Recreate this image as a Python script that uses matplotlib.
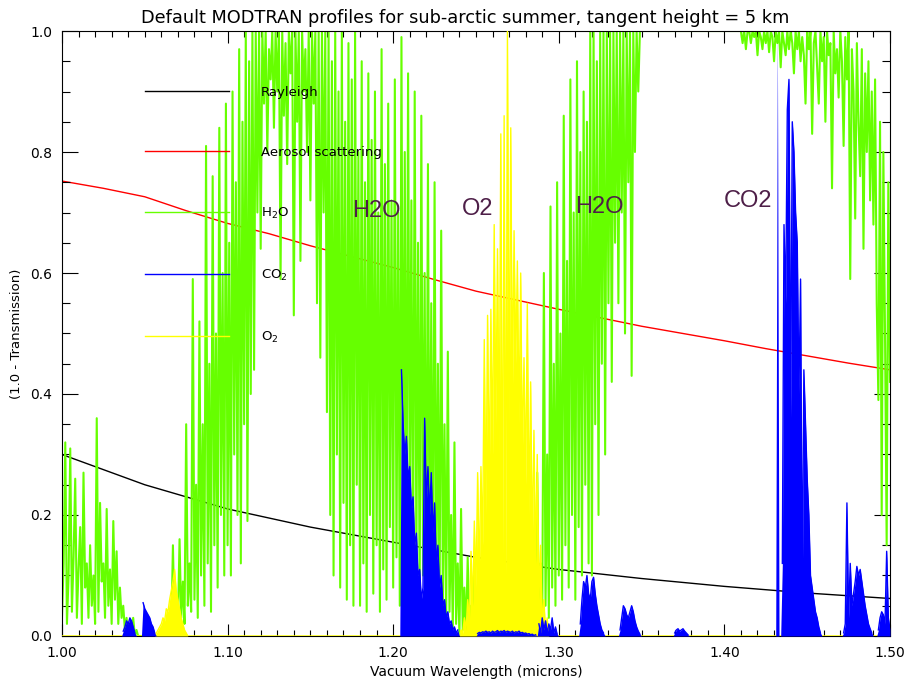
import numpy as np
import matplotlib.pyplot as plt
from matplotlib.ticker import MultipleLocator, FormatStrFormatter

# smooth extinction terms
rayleigh_wl = np.linspace(1.0, 1.5, 11)
rayleigh = [0.300, 0.250, 0.210, 0.180, 0.155, 0.130, 0.110, 0.095, 0.082, 0.071, 0.062]

aerosol_wl = np.linspace(1.0, 1.5, 21)
aerosol = [0.752, 0.740, 0.726, 0.703, 0.682, 0.665, 0.645, 0.627, 0.609, 0.589,
           0.570, 0.555, 0.540, 0.526, 0.512, 0.500, 0.488, 0.475, 0.463, 0.451, 0.440]

# water vapour, every 0.001 micron from 1.000 to 1.500 (one row = 0.02 micron)
h2o_wl = np.linspace(1.0, 1.5, 501)
h2o = [
    0.03, 0.12, 0.32, 0.02, 0.10, 0.31, 0.04, 0.13, 0.26, 0.03, 0.11, 0.18, 0.02, 0.27, 0.08, 0.12, 0.03, 0.15, 0.05, 0.10,
    0.02, 0.36, 0.04, 0.22, 0.09, 0.12, 0.03, 0.21, 0.05, 0.11, 0.02, 0.19, 0.06, 0.14, 0.02, 0.08, 0.03, 0.05, 0.01, 0.03,
    0.00, 0.02, 0.00, 0.03, 0.00, 0.01, 0.00, 0.00, 0.00, 0.00, 0.00, 0.00, 0.00, 0.00, 0.00, 0.00, 0.00, 0.00, 0.00, 0.00,
    0.00, 0.005, 0.00, 0.01, 0.00, 0.02, 0.00, 0.15, 0.01, 0.06, 0.02, 0.16, 0.03, 0.09, 0.02, 0.35, 0.05, 0.12, 0.04, 0.59,
    0.06, 0.25, 0.03, 0.52, 0.10, 0.35, 0.05, 0.81, 0.12, 0.45, 0.04, 0.76, 0.15, 0.50, 0.08, 0.84, 0.20, 0.60, 0.10, 0.88,
    0.15, 0.65, 0.10, 0.90, 0.30, 0.75, 0.20, 0.97, 0.12, 0.85, 0.35, 1.00, 0.19, 0.95, 0.40, 1.00, 0.44, 1.00, 0.70, 1.00,
    0.64, 1.00, 0.88, 1.00, 0.80, 0.97, 0.92, 1.00, 0.84, 1.00, 0.90, 1.00, 0.59, 1.00, 0.86, 0.98, 0.78, 1.00, 0.93, 1.00,
    0.53, 1.00, 0.85, 1.00, 0.62, 1.00, 0.90, 0.97, 0.80, 1.00, 0.72, 1.00, 0.88, 1.00, 0.55, 1.00, 0.46, 1.00, 0.70, 1.00,
    0.37, 1.00, 0.20, 0.95, 0.10, 1.00, 0.30, 0.90, 0.08, 1.00, 0.22, 0.85, 0.06, 0.98, 0.15, 0.92, 0.05, 1.00, 0.25, 0.80,
    0.05, 0.95, 0.12, 0.75, 0.04, 0.93, 0.20, 0.82, 0.07, 0.90, 0.15, 0.70, 0.04, 0.97, 0.11, 0.78, 0.06, 0.88, 0.18, 0.72,
    0.08, 0.92, 0.13, 0.70, 0.05, 0.99, 0.15, 0.80, 0.08, 0.93, 0.20, 0.72, 0.06, 0.90, 0.12, 0.65, 0.05, 0.86, 0.10, 0.60,
    0.04, 0.78, 0.09, 0.55, 0.03, 0.75, 0.07, 0.45, 0.03, 0.67, 0.05, 0.35, 0.02, 0.47, 0.04, 0.20, 0.01, 0.32, 0.02, 0.12,
    0.00, 0.21, 0.01, 0.08, 0.00, 0.13, 0.01, 0.05, 0.00, 0.10, 0.00, 0.04, 0.00, 0.06, 0.00, 0.03, 0.00, 0.12, 0.01, 0.05,
    0.00, 0.08, 0.00, 0.04, 0.00, 0.14, 0.01, 0.06, 0.00, 0.10, 0.00, 0.05, 0.00, 0.12, 0.01, 0.04, 0.00, 0.09, 0.00, 0.05,
    0.00, 0.15, 0.01, 0.06, 0.00, 0.10, 0.02, 0.27, 0.03, 0.12, 0.02, 0.60, 0.05, 0.30, 0.03, 0.71, 0.08, 0.45, 0.05, 0.75,
    0.10, 0.50, 0.06, 0.86, 0.15, 0.62, 0.08, 0.92, 0.20, 0.70, 0.06, 0.95, 0.18, 0.80, 0.10, 0.90, 0.25, 0.85, 0.12, 1.00,
    0.10, 1.00, 0.35, 0.95, 0.20, 1.00, 0.45, 1.00, 0.30, 1.00, 0.55, 1.00, 0.42, 1.00, 0.65, 1.00, 0.55, 1.00, 0.70, 1.00,
    0.50, 1.00, 0.75, 1.00, 0.43, 1.00, 0.80, 1.00, 0.90, 1.00, 1.00, 1.00, 1.00, 1.00, 1.00, 1.00, 1.00, 1.00, 1.00, 1.00,
    1.00, 1.00, 1.00, 1.00, 1.00, 1.00, 1.00, 1.00, 1.00, 1.00, 1.00, 1.00, 1.00, 1.00, 1.00, 1.00, 1.00, 1.00, 1.00, 1.00,
    1.00, 1.00, 1.00, 1.00, 1.00, 1.00, 1.00, 1.00, 1.00, 1.00, 1.00, 1.00, 1.00, 1.00, 1.00, 1.00, 1.00, 1.00, 1.00, 1.00,
    1.00, 1.00, 1.00, 1.00, 1.00, 1.00, 1.00, 1.00, 1.00, 1.00, 1.00, 0.98, 1.00, 0.97, 1.00, 1.00, 0.98, 1.00, 0.99, 1.00,
    0.96, 1.00, 0.99, 0.97, 1.00, 0.98, 1.00, 0.965, 1.00, 0.99, 0.95, 1.00, 0.98, 1.00, 0.94, 1.00, 0.98, 0.96, 1.00, 0.97,
    1.00, 0.98, 0.93, 1.00, 0.97, 1.00, 0.95, 0.99, 0.96, 0.88, 1.00, 0.97, 1.00, 0.83, 0.98, 1.00, 0.94, 0.88, 1.00, 0.95,
    0.99, 0.85, 1.00, 0.96, 0.98, 0.74, 1.00, 0.93, 0.97, 0.89, 1.00, 0.95, 0.81, 0.99, 0.92, 1.00, 0.59, 0.97, 0.90, 0.69,
    0.98, 0.85, 0.76, 0.97, 0.64, 0.93, 0.80, 0.95, 0.72, 0.90, 0.68, 0.92, 0.55, 0.39, 0.85, 0.20, 0.80, 0.50, 0.15, 0.75,
    0.42]

# CO2 bands, every 0.001 micron from the given start; zero elsewhere
co2_1036 = [0.0, 0.008, 0.015, 0.025, 0.02, 0.03, 0.025, 0.015, 0.005, 0.0,
            0.0, 0.0, 0.0, 0.055, 0.045, 0.04, 0.035, 0.03, 0.02, 0.015, 0.005, 0.0]
co2_1203 = [0.0, 0.0, 0.44, 0.35, 0.30, 0.33, 0.26, 0.28, 0.21, 0.23,
            0.15, 0.17, 0.10, 0.11, 0.06, 0.08, 0.36, 0.22, 0.28, 0.20,
            0.27, 0.17, 0.22, 0.12, 0.15, 0.08, 0.10, 0.05, 0.06, 0.03,
            0.04, 0.02, 0.025, 0.01, 0.015, 0.005, 0.01, 0.0]
co2_1250 = [0.0, 0.004, 0.006, 0.005, 0.007, 0.006, 0.008, 0.006, 0.007, 0.005,
            0.008, 0.006, 0.007, 0.009, 0.006, 0.008, 0.007, 0.009, 0.006, 0.008,
            0.007, 0.006, 0.008, 0.005, 0.007, 0.006, 0.008, 0.005, 0.006, 0.004,
            0.005, 0.003, 0.004, 0.002, 0.003, 0.001, 0.002, 0.0, 0.02, 0.005,
            0.03, 0.01, 0.025, 0.005, 0.02, 0.01, 0.03, 0.005, 0.015, 0.003, 0.0]
co2_1312 = [0.0, 0.02, 0.06, 0.09, 0.08, 0.10, 0.07, 0.06, 0.09, 0.097,
            0.07, 0.05, 0.035, 0.02, 0.01, 0.005, 0.0]
co2_1336 = [0.0, 0.01, 0.03, 0.05, 0.045, 0.035, 0.03, 0.04, 0.05, 0.04,
            0.025, 0.015, 0.008, 0.003, 0.0]
co2_1369 = [0.0, 0.005, 0.01, 0.012, 0.008, 0.01, 0.012, 0.008, 0.005, 0.002, 0.0]
co2_1430 = [0.0, 0.0, 1.00, 0.0, 0.0, 0.12, 0.68, 0.55, 0.87, 0.92,
            0.36, 0.85, 0.80, 0.70, 0.65, 0.40, 0.59, 0.06, 0.44, 0.35,
            0.26, 0.20, 0.10, 0.08, 0.06, 0.04, 0.03, 0.015, 0.005, 0.0]
co2_1471 = [0.0, 0.005, 0.02, 0.22, 0.03, 0.12, 0.05, 0.07, 0.09, 0.115,
            0.10, 0.11, 0.09, 0.07, 0.05, 0.035, 0.02, 0.012, 0.005, 0.0]
co2_1492 = [0.0, 0.01, 0.03, 0.04, 0.035, 0.02, 0.14, 0.03, 0.01]

# O2 bands
o2_1056 = [0.0, 0.005, 0.01, 0.015, 0.02, 0.03, 0.025, 0.045, 0.04, 0.06,
           0.075, 0.09, 0.11, 0.075, 0.06, 0.045, 0.03, 0.02, 0.01, 0.005, 0.0]
o2_1240 = [0.0, 0.01, 0.005, 0.03, 0.01, 0.06, 0.02, 0.14, 0.05, 0.19,
           0.08, 0.27, 0.10, 0.28, 0.15, 0.49, 0.20, 0.53, 0.25, 0.54,
           0.30, 0.68, 0.35, 0.64, 0.30, 0.83, 0.12, 0.86, 0.10, 1.00,
           0.35, 0.84, 0.40, 0.67, 0.45, 0.62, 0.35, 0.60, 0.30, 0.46,
           0.25, 0.55, 0.20, 0.42, 0.15, 0.34, 0.12, 0.30, 0.06, 0.15,
           0.02, 0.06, 0.01, 0.03, 0.0]

fine_wl = np.linspace(1.0, 1.5, 501)


def on_fine_grid(bands):
    out = np.zeros_like(fine_wl)
    for start, vals in bands:
        i = int(round((start - 1.0) / 0.001))
        out[i:i + len(vals)] = vals
    return out


co2 = on_fine_grid([(1.036, co2_1036), (1.203, co2_1203), (1.250, co2_1250),
                    (1.312, co2_1312), (1.336, co2_1336), (1.369, co2_1369),
                    (1.430, co2_1430), (1.471, co2_1471), (1.492, co2_1492)])
o2 = on_fine_grid([(1.056, o2_1056), (1.240, o2_1240)])

fig = plt.figure(figsize=(9.1, 6.86), dpi=100)
ax = fig.add_axes([0.0681, 0.0729, 0.9099, 0.8819])

ax.plot(rayleigh_wl, rayleigh, color='black', lw=1.0, zorder=1, label='Rayleigh')
ax.plot(aerosol_wl, aerosol, color='red', lw=1.0, zorder=1, label='Aerosol scattering')
ax.plot(h2o_wl, h2o, color='#66ff00', lw=1.5, zorder=2, label='H$_2$O')
ax.fill_between(fine_wl, 0, o2, color='yellow', lw=0, zorder=3)
ax.plot(fine_wl, o2, color='yellow', lw=1.0, zorder=3.5, label='O$_2$')
ax.fill_between(fine_wl, 0, co2, color='blue', lw=0, zorder=4)
ax.plot(fine_wl, np.where(co2 > 0, co2, np.nan), color='blue', lw=1.0, zorder=4,
        label='CO$_2$')

handles, labels = ax.get_legend_handles_labels()
order = [0, 1, 2, 4, 3]
leg = ax.legend([handles[i] for i in order], [labels[i] for i in order],
                loc='upper left', bbox_to_anchor=(0.1, 0.909), frameon=False,
                fontsize=9.5, handlelength=6.4, handletextpad=2.4,
                labelspacing=3.55, borderpad=0, borderaxespad=0)
for h in leg.legend_handles:
    h.set_linewidth(1.0)
leg.set_zorder(2.2)

band_color = '#4e1f48'
for x, y, s in [(1.1896, 0.702, 'H2O'), (1.2512, 0.706, 'O2'),
                (1.3243, 0.709, 'H2O'), (1.4143, 0.719, 'CO2')]:
    ax.text(x, y, s, color=band_color, fontsize=17, family='Liberation Sans',
            ha='center', va='center', zorder=6)

ax.set_xlim(1.0, 1.5)
ax.set_ylim(0.0, 1.0)
ax.xaxis.set_major_locator(MultipleLocator(0.1))
ax.xaxis.set_minor_locator(MultipleLocator(0.01))
ax.yaxis.set_major_locator(MultipleLocator(0.2))
ax.yaxis.set_minor_locator(MultipleLocator(0.05))
ax.xaxis.set_major_formatter(FormatStrFormatter('%.2f'))
ax.yaxis.set_major_formatter(FormatStrFormatter('%.1f'))
ax.tick_params(which='both', direction='in', top=True, right=True, width=0.8,
               labelsize=10, pad=7)
ax.tick_params(axis='x', which='major', length=8.6)
ax.tick_params(axis='x', which='minor', length=4.3)
ax.tick_params(axis='y', which='major', length=11.5)
ax.tick_params(axis='y', which='minor', length=5.8)
for sp in ax.spines.values():
    sp.set_linewidth(0.8)

ax.set_title('Default MODTRAN profiles for sub-arctic summer, tangent height = 5 km',
             fontsize=12.8, pad=6, x=0.487)
ax.set_xlabel('Vacuum Wavelength (microns)', fontsize=10, labelpad=4)
ax.set_ylabel('(1.0 - Transmission)', fontsize=9.5, labelpad=5)

fig.savefig('out.png', dpi=100)
